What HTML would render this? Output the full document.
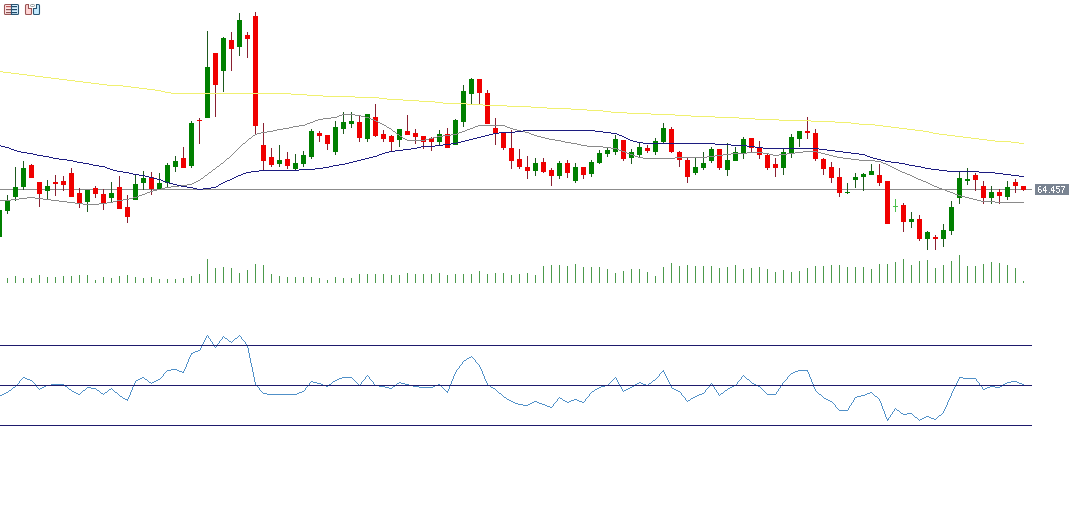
<!DOCTYPE html>
<html><head><meta charset="utf-8"><style>
html,body{margin:0;padding:0;background:#fff;width:1074px;height:505px;overflow:hidden;font-family:"Liberation Sans",sans-serif;}
svg{display:block}

</style></head><body>
<div id="w"><svg width="1074" height="505" viewBox="0 0 1074 505"><rect width="1074" height="505" fill="#ffffff"/><rect x="0" y="189" width="1032" height="1" fill="#8c8c8c" shape-rendering="crispEdges"/><g shape-rendering="crispEdges"><rect x="-1" y="210" width="1" height="27" fill="#1e5a1e"/><rect x="-3" y="210" width="5" height="27" fill="#008000"/><rect x="7" y="195" width="1" height="19" fill="#1e5a1e"/><rect x="5" y="201" width="5" height="10" fill="#008000"/><rect x="15" y="167" width="1" height="34" fill="#1e5a1e"/><rect x="13" y="187" width="5" height="10" fill="#008000"/><rect x="23" y="161" width="1" height="29" fill="#1e5a1e"/><rect x="21" y="168" width="5" height="19" fill="#008000"/><rect x="31" y="164" width="1" height="14" fill="#8a2030"/><rect x="29" y="165" width="5" height="13" fill="#f00000"/><rect x="39" y="182" width="1" height="25" fill="#8a2030"/><rect x="37" y="182" width="5" height="12" fill="#f00000"/><rect x="47" y="180" width="1" height="19" fill="#1e5a1e"/><rect x="45" y="186" width="5" height="5" fill="#008000"/><rect x="55" y="175" width="1" height="21" fill="#8a2030"/><rect x="53" y="182" width="5" height="2" fill="#f00000"/><rect x="63" y="176" width="1" height="15" fill="#8a2030"/><rect x="61" y="181" width="5" height="4" fill="#f00000"/><rect x="71" y="168" width="1" height="29" fill="#8a2030"/><rect x="69" y="173" width="5" height="24" fill="#f00000"/><rect x="79" y="188" width="1" height="20" fill="#8a2030"/><rect x="77" y="193" width="5" height="10" fill="#f00000"/><rect x="87" y="190" width="1" height="22" fill="#1e5a1e"/><rect x="85" y="190" width="5" height="12" fill="#008000"/><rect x="95" y="186" width="1" height="12" fill="#8a2030"/><rect x="93" y="188" width="5" height="6" fill="#f00000"/><rect x="103" y="189" width="1" height="21" fill="#8a2030"/><rect x="101" y="194" width="5" height="9" fill="#f00000"/><rect x="111" y="182" width="1" height="20" fill="#1e5a1e"/><rect x="109" y="193" width="5" height="5" fill="#008000"/><rect x="119" y="176" width="1" height="33" fill="#8a2030"/><rect x="117" y="187" width="5" height="22" fill="#f00000"/><rect x="127" y="195" width="1" height="28" fill="#8a2030"/><rect x="125" y="207" width="5" height="10" fill="#f00000"/><rect x="135" y="175" width="1" height="25" fill="#1e5a1e"/><rect x="133" y="184" width="5" height="16" fill="#008000"/><rect x="143" y="171" width="1" height="19" fill="#1e5a1e"/><rect x="141" y="178" width="5" height="5" fill="#008000"/><rect x="151" y="172" width="1" height="23" fill="#8a2030"/><rect x="149" y="177" width="5" height="12" fill="#f00000"/><rect x="159" y="173" width="1" height="17" fill="#1e5a1e"/><rect x="157" y="183" width="5" height="6" fill="#008000"/><rect x="167" y="163" width="1" height="24" fill="#1e5a1e"/><rect x="165" y="165" width="5" height="18" fill="#008000"/><rect x="175" y="156" width="1" height="16" fill="#1e5a1e"/><rect x="173" y="161" width="5" height="6" fill="#008000"/><rect x="183" y="147" width="1" height="21" fill="#8a2030"/><rect x="181" y="158" width="5" height="10" fill="#f00000"/><rect x="191" y="121" width="1" height="47" fill="#1e5a1e"/><rect x="189" y="123" width="5" height="43" fill="#008000"/><rect x="199" y="118" width="1" height="26" fill="#8a2030"/><rect x="197" y="120" width="5" height="1" fill="#f00000"/><rect x="207" y="31" width="1" height="87" fill="#1e5a1e"/><rect x="205" y="67" width="5" height="51" fill="#008000"/><rect x="215" y="53" width="1" height="64" fill="#8a2030"/><rect x="213" y="53" width="5" height="32" fill="#f00000"/><rect x="223" y="37" width="1" height="55" fill="#1e5a1e"/><rect x="221" y="38" width="5" height="33" fill="#008000"/><rect x="231" y="32" width="1" height="39" fill="#8a2030"/><rect x="229" y="40" width="5" height="9" fill="#f00000"/><rect x="239" y="13" width="1" height="43" fill="#1e5a1e"/><rect x="237" y="20" width="5" height="27" fill="#008000"/><rect x="247" y="32" width="1" height="26" fill="#8a2030"/><rect x="245" y="35" width="5" height="4" fill="#f00000"/><rect x="255" y="12" width="1" height="122" fill="#8a2030"/><rect x="253" y="16" width="5" height="110" fill="#f00000"/><rect x="263" y="123" width="1" height="47" fill="#8a2030"/><rect x="261" y="145" width="5" height="16" fill="#f00000"/><rect x="271" y="148" width="1" height="19" fill="#8a2030"/><rect x="269" y="157" width="5" height="8" fill="#f00000"/><rect x="279" y="145" width="1" height="22" fill="#1e5a1e"/><rect x="277" y="160" width="5" height="4" fill="#008000"/><rect x="287" y="152" width="1" height="17" fill="#8a2030"/><rect x="285" y="159" width="5" height="7" fill="#f00000"/><rect x="295" y="154" width="1" height="17" fill="#1e5a1e"/><rect x="293" y="163" width="5" height="6" fill="#008000"/><rect x="303" y="151" width="1" height="16" fill="#1e5a1e"/><rect x="301" y="155" width="5" height="9" fill="#008000"/><rect x="311" y="129" width="1" height="30" fill="#1e5a1e"/><rect x="309" y="131" width="5" height="26" fill="#008000"/><rect x="319" y="131" width="1" height="11" fill="#8a2030"/><rect x="317" y="133" width="5" height="3" fill="#f00000"/><rect x="327" y="135" width="1" height="15" fill="#8a2030"/><rect x="325" y="135" width="5" height="9" fill="#f00000"/><rect x="335" y="121" width="1" height="34" fill="#1e5a1e"/><rect x="333" y="127" width="5" height="25" fill="#008000"/><rect x="343" y="112" width="1" height="22" fill="#1e5a1e"/><rect x="341" y="122" width="5" height="7" fill="#008000"/><rect x="351" y="112" width="1" height="16" fill="#1e5a1e"/><rect x="349" y="121" width="5" height="3" fill="#008000"/><rect x="359" y="116" width="1" height="26" fill="#8a2030"/><rect x="357" y="122" width="5" height="16" fill="#f00000"/><rect x="367" y="114" width="1" height="28" fill="#1e5a1e"/><rect x="365" y="114" width="5" height="25" fill="#008000"/><rect x="375" y="104" width="1" height="33" fill="#8a2030"/><rect x="373" y="117" width="5" height="19" fill="#f00000"/><rect x="383" y="130" width="1" height="12" fill="#8a2030"/><rect x="381" y="134" width="5" height="5" fill="#f00000"/><rect x="391" y="135" width="1" height="17" fill="#8a2030"/><rect x="389" y="136" width="5" height="6" fill="#f00000"/><rect x="399" y="129" width="1" height="18" fill="#1e5a1e"/><rect x="397" y="129" width="5" height="11" fill="#008000"/><rect x="407" y="115" width="1" height="20" fill="#8a2030"/><rect x="405" y="131" width="5" height="4" fill="#f00000"/><rect x="415" y="129" width="1" height="15" fill="#8a2030"/><rect x="413" y="133" width="5" height="4" fill="#f00000"/><rect x="423" y="136" width="1" height="13" fill="#8a2030"/><rect x="421" y="136" width="5" height="6" fill="#f00000"/><rect x="431" y="137" width="1" height="14" fill="#8a2030"/><rect x="429" y="138" width="5" height="4" fill="#f00000"/><rect x="439" y="130" width="1" height="15" fill="#1e5a1e"/><rect x="437" y="134" width="5" height="8" fill="#008000"/><rect x="447" y="128" width="1" height="20" fill="#8a2030"/><rect x="445" y="134" width="5" height="14" fill="#f00000"/><rect x="455" y="119" width="1" height="26" fill="#1e5a1e"/><rect x="453" y="120" width="5" height="25" fill="#008000"/><rect x="463" y="85" width="1" height="42" fill="#1e5a1e"/><rect x="461" y="91" width="5" height="31" fill="#008000"/><rect x="471" y="78" width="1" height="26" fill="#1e5a1e"/><rect x="469" y="79" width="5" height="15" fill="#008000"/><rect x="479" y="79" width="1" height="25" fill="#8a2030"/><rect x="477" y="79" width="5" height="14" fill="#f00000"/><rect x="487" y="90" width="1" height="34" fill="#8a2030"/><rect x="485" y="93" width="5" height="31" fill="#f00000"/><rect x="495" y="118" width="1" height="27" fill="#8a2030"/><rect x="493" y="128" width="5" height="6" fill="#f00000"/><rect x="503" y="133" width="1" height="17" fill="#8a2030"/><rect x="501" y="133" width="5" height="15" fill="#f00000"/><rect x="511" y="130" width="1" height="39" fill="#8a2030"/><rect x="509" y="148" width="5" height="13" fill="#f00000"/><rect x="519" y="149" width="1" height="20" fill="#8a2030"/><rect x="517" y="159" width="5" height="8" fill="#f00000"/><rect x="527" y="156" width="1" height="23" fill="#8a2030"/><rect x="525" y="167" width="5" height="4" fill="#f00000"/><rect x="535" y="158" width="1" height="18" fill="#1e5a1e"/><rect x="533" y="163" width="5" height="8" fill="#008000"/><rect x="543" y="158" width="1" height="15" fill="#8a2030"/><rect x="541" y="162" width="5" height="10" fill="#f00000"/><rect x="551" y="168" width="1" height="18" fill="#8a2030"/><rect x="549" y="170" width="5" height="6" fill="#f00000"/><rect x="559" y="161" width="1" height="18" fill="#1e5a1e"/><rect x="557" y="163" width="5" height="13" fill="#008000"/><rect x="567" y="160" width="1" height="18" fill="#8a2030"/><rect x="565" y="163" width="5" height="10" fill="#f00000"/><rect x="575" y="163" width="1" height="20" fill="#1e5a1e"/><rect x="573" y="167" width="5" height="14" fill="#008000"/><rect x="583" y="167" width="1" height="12" fill="#8a2030"/><rect x="581" y="167" width="5" height="8" fill="#f00000"/><rect x="591" y="160" width="1" height="17" fill="#1e5a1e"/><rect x="589" y="162" width="5" height="12" fill="#008000"/><rect x="599" y="150" width="1" height="14" fill="#1e5a1e"/><rect x="597" y="153" width="5" height="10" fill="#008000"/><rect x="607" y="147" width="1" height="10" fill="#1e5a1e"/><rect x="605" y="150" width="5" height="4" fill="#008000"/><rect x="615" y="135" width="1" height="20" fill="#1e5a1e"/><rect x="613" y="139" width="5" height="13" fill="#008000"/><rect x="623" y="140" width="1" height="21" fill="#8a2030"/><rect x="621" y="140" width="5" height="19" fill="#f00000"/><rect x="631" y="149" width="1" height="15" fill="#1e5a1e"/><rect x="629" y="152" width="5" height="6" fill="#008000"/><rect x="639" y="142" width="1" height="16" fill="#1e5a1e"/><rect x="637" y="147" width="5" height="8" fill="#008000"/><rect x="647" y="145" width="1" height="8" fill="#8a2030"/><rect x="645" y="148" width="5" height="3" fill="#f00000"/><rect x="655" y="138" width="1" height="17" fill="#1e5a1e"/><rect x="653" y="141" width="5" height="11" fill="#008000"/><rect x="663" y="123" width="1" height="20" fill="#1e5a1e"/><rect x="661" y="128" width="5" height="14" fill="#008000"/><rect x="671" y="127" width="1" height="26" fill="#8a2030"/><rect x="669" y="129" width="5" height="23" fill="#f00000"/><rect x="679" y="151" width="1" height="16" fill="#8a2030"/><rect x="677" y="152" width="5" height="8" fill="#f00000"/><rect x="687" y="157" width="1" height="26" fill="#8a2030"/><rect x="685" y="160" width="5" height="17" fill="#f00000"/><rect x="695" y="157" width="1" height="18" fill="#1e5a1e"/><rect x="693" y="167" width="5" height="6" fill="#008000"/><rect x="703" y="152" width="1" height="18" fill="#1e5a1e"/><rect x="701" y="163" width="5" height="5" fill="#008000"/><rect x="711" y="147" width="1" height="16" fill="#1e5a1e"/><rect x="709" y="149" width="5" height="12" fill="#008000"/><rect x="719" y="149" width="1" height="21" fill="#8a2030"/><rect x="717" y="149" width="5" height="19" fill="#f00000"/><rect x="727" y="143" width="1" height="33" fill="#1e5a1e"/><rect x="725" y="160" width="5" height="10" fill="#008000"/><rect x="735" y="147" width="1" height="14" fill="#1e5a1e"/><rect x="733" y="152" width="5" height="9" fill="#008000"/><rect x="743" y="137" width="1" height="22" fill="#1e5a1e"/><rect x="741" y="139" width="5" height="14" fill="#008000"/><rect x="751" y="138" width="1" height="14" fill="#8a2030"/><rect x="749" y="138" width="5" height="10" fill="#f00000"/><rect x="759" y="141" width="1" height="18" fill="#8a2030"/><rect x="757" y="147" width="5" height="8" fill="#f00000"/><rect x="767" y="154" width="1" height="16" fill="#8a2030"/><rect x="765" y="155" width="5" height="13" fill="#f00000"/><rect x="775" y="158" width="1" height="19" fill="#8a2030"/><rect x="773" y="164" width="5" height="4" fill="#f00000"/><rect x="783" y="149" width="1" height="26" fill="#1e5a1e"/><rect x="781" y="152" width="5" height="16" fill="#008000"/><rect x="791" y="134" width="1" height="24" fill="#1e5a1e"/><rect x="789" y="137" width="5" height="16" fill="#008000"/><rect x="799" y="131" width="1" height="16" fill="#1e5a1e"/><rect x="797" y="131" width="5" height="8" fill="#008000"/><rect x="807" y="117" width="1" height="22" fill="#8a2030"/><rect x="805" y="131" width="5" height="2" fill="#f00000"/><rect x="815" y="129" width="1" height="32" fill="#8a2030"/><rect x="813" y="133" width="5" height="26" fill="#f00000"/><rect x="823" y="158" width="1" height="17" fill="#8a2030"/><rect x="821" y="159" width="5" height="10" fill="#f00000"/><rect x="831" y="162" width="1" height="21" fill="#8a2030"/><rect x="829" y="167" width="5" height="11" fill="#f00000"/><rect x="839" y="168" width="1" height="29" fill="#8a2030"/><rect x="837" y="177" width="5" height="16" fill="#f00000"/><rect x="847" y="183" width="1" height="11" fill="#1e5a1e"/><rect x="845" y="192" width="5" height="1" fill="#008000"/><rect x="855" y="173" width="1" height="15" fill="#1e5a1e"/><rect x="853" y="177" width="5" height="3" fill="#008000"/><rect x="863" y="173" width="1" height="18" fill="#1e5a1e"/><rect x="861" y="174" width="5" height="3" fill="#008000"/><rect x="871" y="164" width="1" height="11" fill="#1e5a1e"/><rect x="869" y="171" width="5" height="4" fill="#008000"/><rect x="879" y="164" width="1" height="22" fill="#8a2030"/><rect x="877" y="175" width="5" height="8" fill="#f00000"/><rect x="887" y="181" width="1" height="43" fill="#8a2030"/><rect x="885" y="181" width="5" height="43" fill="#f00000"/><rect x="895" y="199" width="1" height="13" fill="#4cc04c"/><rect x="893" y="206" width="5" height="1" fill="#4cc04c"/><rect x="903" y="203" width="1" height="29" fill="#8a2030"/><rect x="901" y="205" width="5" height="17" fill="#f00000"/><rect x="911" y="212" width="1" height="16" fill="#1e5a1e"/><rect x="909" y="219" width="5" height="3" fill="#008000"/><rect x="919" y="215" width="1" height="26" fill="#8a2030"/><rect x="917" y="219" width="5" height="20" fill="#f00000"/><rect x="927" y="231" width="1" height="19" fill="#1e5a1e"/><rect x="925" y="232" width="5" height="7" fill="#008000"/><rect x="935" y="235" width="1" height="15" fill="#8a2030"/><rect x="933" y="237" width="5" height="2" fill="#f00000"/><rect x="943" y="224" width="1" height="23" fill="#1e5a1e"/><rect x="941" y="230" width="5" height="9" fill="#008000"/><rect x="951" y="201" width="1" height="34" fill="#1e5a1e"/><rect x="949" y="207" width="5" height="24" fill="#008000"/><rect x="959" y="172" width="1" height="32" fill="#1e5a1e"/><rect x="957" y="178" width="5" height="20" fill="#008000"/><rect x="967" y="168" width="1" height="17" fill="#1e5a1e"/><rect x="965" y="179" width="5" height="2" fill="#008000"/><rect x="975" y="173" width="1" height="18" fill="#8a2030"/><rect x="973" y="175" width="5" height="5" fill="#f00000"/><rect x="983" y="181" width="1" height="23" fill="#8a2030"/><rect x="981" y="186" width="5" height="12" fill="#f00000"/><rect x="991" y="186" width="1" height="18" fill="#1e5a1e"/><rect x="989" y="192" width="5" height="6" fill="#008000"/><rect x="999" y="189" width="1" height="15" fill="#8a2030"/><rect x="997" y="192" width="5" height="4" fill="#f00000"/><rect x="1007" y="181" width="1" height="19" fill="#1e5a1e"/><rect x="1005" y="187" width="5" height="10" fill="#008000"/><rect x="1015" y="179" width="1" height="14" fill="#8a2030"/><rect x="1013" y="182" width="5" height="4" fill="#f00000"/><rect x="1023" y="186" width="1" height="5" fill="#8a2030"/><rect x="1021" y="186" width="5" height="4" fill="#f00000"/></g><path d="M0 71h3v1h-3zM3 72h8v1h-8zM11 73h8v1h-8zM19 74h8v1h-8zM27 75h8v1h-8zM35 76h8v1h-8zM43 77h8v1h-8zM51 78h8v1h-8zM59 79h8v1h-8zM67 80h8v1h-8zM75 81h8v1h-8zM83 82h8v1h-8zM91 83h8v1h-8zM99 84h8v1h-8zM107 85h16v1h-16zM123 86h8v1h-8zM131 87h8v1h-8zM139 88h8v1h-8zM147 89h8v1h-8zM155 90h6v1h-6zM161 91h4v1h-4zM165 92h6v1h-6zM171 93h120v1h-120zM291 94h16v1h-16zM307 95h16v1h-16zM323 96h32v1h-32zM355 97h24v1h-24zM379 98h8v1h-8zM387 99h16v1h-16zM403 100h16v1h-16zM419 101h16v1h-16zM435 102h8v1h-8zM443 103h24v1h-24zM467 104h16v1h-16zM483 105h24v1h-24zM507 106h24v1h-24zM531 107h16v1h-16zM547 108h24v1h-24zM571 109h16v1h-16zM587 110h16v1h-16zM603 111h8v1h-8zM611 112h16v1h-16zM627 113h24v1h-24zM651 114h24v1h-24zM675 115h16v1h-16zM691 116h24v1h-24zM715 117h24v1h-24zM739 118h16v1h-16zM755 119h24v1h-24zM779 120h32v1h-32zM811 121h24v1h-24zM835 122h16v1h-16zM851 123h8v1h-8zM859 124h16v1h-16zM875 125h8v1h-8zM883 126h8v1h-8zM891 127h8v1h-8zM899 128h8v1h-8zM907 129h8v1h-8zM915 130h8v1h-8zM923 131h6v1h-6zM929 132h4v1h-4zM933 133h6v1h-6zM939 134h8v1h-8zM947 135h8v1h-8zM955 136h8v1h-8zM963 137h8v1h-8zM971 138h8v1h-8zM979 139h8v1h-8zM987 140h8v1h-8zM995 141h16v1h-16zM1011 142h8v1h-8zM1019 143h5v1h-5z" fill="#f0f070" shape-rendering="crispEdges"/><path d="M0 200h11v1h-11zM51 200h8v1h-8zM117 200h6v1h-6zM977 200h4v1h-4zM11 199h8v1h-8zM43 199h8v1h-8zM123 199h6v1h-6zM973 199h4v1h-4zM19 198h8v1h-8zM35 198h8v1h-8zM129 198h4v1h-4zM969 198h4v1h-4zM27 197h8v1h-8zM133 197h4v1h-4zM965 197h4v1h-4zM59 201h8v1h-8zM113 201h4v1h-4zM981 201h14v1h-14zM67 202h8v1h-8zM107 202h6v1h-6zM995 202h29v1h-29zM75 203h8v1h-8zM99 203h8v1h-8zM83 204h16v1h-16zM137 196h2v1h-2zM961 196h4v1h-4zM139 195h3v1h-3zM958 195h3v1h-3zM142 194h3v1h-3zM955 194h3v1h-3zM145 193h2v1h-2zM953 193h2v1h-2zM147 192h3v1h-3zM950 192h3v1h-3zM150 191h3v1h-3zM947 191h3v1h-3zM153 190h4v1h-4zM945 190h2v1h-2zM157 189h4v1h-4zM942 189h3v1h-3zM161 188h4v1h-4zM939 188h3v1h-3zM165 187h6v1h-6zM937 187h2v1h-2zM171 186h8v1h-8zM934 186h3v1h-3zM179 185h8v1h-8zM932 185h2v1h-2zM187 184h5v1h-5zM930 184h2v1h-2zM192 183h2v1h-2zM928 183h2v1h-2zM194 182h2v1h-2zM926 182h2v1h-2zM196 181h2v1h-2zM923 181h3v1h-3zM198 180h2v1h-2zM921 180h2v1h-2zM200 179h1v1h-1zM918 179h3v1h-3zM201 178h2v1h-2zM916 178h2v1h-2zM203 177h1v1h-1zM914 177h2v1h-2zM204 176h1v1h-1zM912 176h2v1h-2zM205 175h2v1h-2zM910 175h2v1h-2zM207 174h1v1h-1zM907 174h3v1h-3zM208 173h1v1h-1zM905 173h2v1h-2zM209 172h2v1h-2zM902 172h3v1h-3zM211 171h1v1h-1zM900 171h2v1h-2zM212 170h1v1h-1zM898 170h2v1h-2zM213 169h2v1h-2zM896 169h2v1h-2zM215 168h1v1h-1zM894 168h2v1h-2zM216 167h1v1h-1zM892 167h2v1h-2zM217 166h2v1h-2zM890 166h2v1h-2zM219 165h1v1h-1zM888 165h2v1h-2zM220 164h1v1h-1zM886 164h2v1h-2zM221 163h2v1h-2zM883 163h3v1h-3zM223 162h1v1h-1zM881 162h2v1h-2zM224 161h1v1h-1zM875 161h6v1h-6zM225 160h1v1h-1zM859 160h16v1h-16zM226 159h1v1h-1zM851 159h8v1h-8zM227 158h2v1h-2zM643 158h32v1h-32zM843 158h8v1h-8zM229 157h1v1h-1zM638 157h5v1h-5zM675 157h32v1h-32zM837 157h6v1h-6zM230 156h1v1h-1zM635 156h3v1h-3zM707 156h8v1h-8zM833 156h4v1h-4zM231 155h1v1h-1zM633 155h2v1h-2zM715 155h8v1h-8zM773 155h6v1h-6zM829 155h4v1h-4zM232 154h1v1h-1zM630 154h3v1h-3zM723 154h8v1h-8zM769 154h4v1h-4zM779 154h8v1h-8zM825 154h4v1h-4zM233 153h1v1h-1zM627 153h3v1h-3zM731 153h16v1h-16zM763 153h6v1h-6zM787 153h8v1h-8zM821 153h4v1h-4zM234 152h1v1h-1zM625 152h2v1h-2zM747 152h16v1h-16zM795 152h8v1h-8zM817 152h4v1h-4zM235 151h1v1h-1zM622 151h3v1h-3zM803 151h14v1h-14zM236 150h1v1h-1zM619 150h3v1h-3zM237 149h1v1h-1zM617 149h2v1h-2zM238 148h1v1h-1zM611 148h6v1h-6zM239 147h1v1h-1zM603 147h8v1h-8zM240 146h1v1h-1zM587 146h16v1h-16zM241 145h1v1h-1zM581 145h6v1h-6zM242 144h1v1h-1zM577 144h4v1h-4zM243 143h2v1h-2zM571 143h6v1h-6zM245 142h1v1h-1zM565 142h6v1h-6zM246 141h1v1h-1zM561 141h4v1h-4zM247 140h1v1h-1zM407 140h18v1h-18zM555 140h6v1h-6zM248 139h1v1h-1zM405 139h2v1h-2zM425 139h4v1h-4zM549 139h6v1h-6zM249 138h2v1h-2zM403 138h2v1h-2zM429 138h4v1h-4zM545 138h4v1h-4zM251 137h1v1h-1zM402 137h1v1h-1zM433 137h4v1h-4zM541 137h4v1h-4zM252 136h1v1h-1zM400 136h2v1h-2zM437 136h6v1h-6zM537 136h4v1h-4zM253 135h2v1h-2zM399 135h1v1h-1zM443 135h8v1h-8zM534 135h3v1h-3zM255 134h2v1h-2zM397 134h2v1h-2zM451 134h6v1h-6zM531 134h3v1h-3zM257 133h4v1h-4zM396 133h1v1h-1zM457 133h2v1h-2zM529 133h2v1h-2zM261 132h6v1h-6zM395 132h1v1h-1zM459 132h3v1h-3zM525 132h4v1h-4zM267 131h6v1h-6zM393 131h2v1h-2zM462 131h3v1h-3zM521 131h4v1h-4zM273 130h4v1h-4zM392 130h1v1h-1zM465 130h2v1h-2zM517 130h4v1h-4zM277 129h6v1h-6zM391 129h1v1h-1zM467 129h3v1h-3zM513 129h4v1h-4zM283 128h6v1h-6zM389 128h2v1h-2zM470 128h3v1h-3zM510 128h3v1h-3zM289 127h4v1h-4zM387 127h2v1h-2zM473 127h2v1h-2zM507 127h3v1h-3zM293 126h6v1h-6zM386 126h1v1h-1zM475 126h3v1h-3zM505 126h2v1h-2zM299 125h6v1h-6zM384 125h2v1h-2zM478 125h27v1h-27zM305 124h2v1h-2zM382 124h2v1h-2zM307 123h3v1h-3zM380 123h2v1h-2zM310 122h3v1h-3zM378 122h2v1h-2zM313 121h2v1h-2zM376 121h2v1h-2zM315 120h3v1h-3zM374 120h2v1h-2zM318 119h5v1h-5zM371 119h3v1h-3zM323 118h8v1h-8zM369 118h2v1h-2zM331 117h6v1h-6zM365 117h4v1h-4zM337 116h2v1h-2zM361 116h4v1h-4zM339 115h3v1h-3zM355 115h6v1h-6zM342 114h13v1h-13z" fill="#8a8a8a" shape-rendering="crispEdges"/><path d="M0 145h1v1h-1zM435 145h8v1h-8zM731 145h16v1h-16zM1 146h4v1h-4zM421 146h14v1h-14zM747 146h8v1h-8zM5 147h4v1h-4zM417 147h4v1h-4zM755 147h8v1h-8zM9 148h2v1h-2zM411 148h6v1h-6zM763 148h56v1h-56zM11 149h3v1h-3zM403 149h8v1h-8zM819 149h8v1h-8zM14 150h3v1h-3zM395 150h8v1h-8zM827 150h8v1h-8zM17 151h4v1h-4zM389 151h6v1h-6zM835 151h8v1h-8zM21 152h6v1h-6zM385 152h4v1h-4zM843 152h8v1h-8zM27 153h6v1h-6zM382 153h3v1h-3zM851 153h8v1h-8zM33 154h4v1h-4zM379 154h3v1h-3zM859 154h6v1h-6zM37 155h6v1h-6zM377 155h2v1h-2zM865 155h2v1h-2zM43 156h6v1h-6zM373 156h4v1h-4zM867 156h3v1h-3zM49 157h4v1h-4zM369 157h4v1h-4zM870 157h3v1h-3zM53 158h6v1h-6zM365 158h4v1h-4zM873 158h4v1h-4zM59 159h8v1h-8zM361 159h4v1h-4zM877 159h4v1h-4zM67 160h6v1h-6zM357 160h4v1h-4zM881 160h4v1h-4zM73 161h4v1h-4zM353 161h4v1h-4zM885 161h6v1h-6zM77 162h6v1h-6zM349 162h4v1h-4zM891 162h8v1h-8zM83 163h6v1h-6zM345 163h4v1h-4zM899 163h6v1h-6zM89 164h4v1h-4zM339 164h6v1h-6zM905 164h4v1h-4zM93 165h6v1h-6zM333 165h6v1h-6zM909 165h6v1h-6zM99 166h6v1h-6zM329 166h4v1h-4zM915 166h6v1h-6zM105 167h2v1h-2zM323 167h6v1h-6zM921 167h4v1h-4zM107 168h3v1h-3zM315 168h8v1h-8zM925 168h6v1h-6zM110 169h3v1h-3zM299 169h16v1h-16zM931 169h8v1h-8zM113 170h4v1h-4zM259 170h40v1h-40zM939 170h8v1h-8zM117 171h6v1h-6zM251 171h8v1h-8zM947 171h32v1h-32zM123 172h6v1h-6zM246 172h5v1h-5zM979 172h16v1h-16zM129 173h4v1h-4zM243 173h3v1h-3zM995 173h8v1h-8zM133 174h6v1h-6zM241 174h2v1h-2zM1003 174h8v1h-8zM139 175h6v1h-6zM238 175h3v1h-3zM1011 175h8v1h-8zM145 176h4v1h-4zM236 176h2v1h-2zM1019 176h5v1h-5zM149 177h4v1h-4zM234 177h2v1h-2zM153 178h4v1h-4zM232 178h2v1h-2zM157 179h4v1h-4zM230 179h2v1h-2zM161 180h2v1h-2zM227 180h3v1h-3zM163 181h3v1h-3zM225 181h2v1h-2zM166 182h3v1h-3zM223 182h2v1h-2zM169 183h4v1h-4zM221 183h2v1h-2zM173 184h4v1h-4zM219 184h2v1h-2zM177 185h4v1h-4zM218 185h1v1h-1zM181 186h6v1h-6zM216 186h2v1h-2zM187 187h6v1h-6zM211 187h5v1h-5zM193 188h4v1h-4zM203 188h8v1h-8zM197 189h6v1h-6zM443 144h8v1h-8zM715 144h16v1h-16zM451 143h6v1h-6zM643 143h72v1h-72zM457 142h4v1h-4zM637 142h6v1h-6zM461 141h4v1h-4zM633 141h4v1h-4zM465 140h4v1h-4zM630 140h3v1h-3zM469 139h4v1h-4zM628 139h2v1h-2zM473 138h4v1h-4zM626 138h2v1h-2zM477 137h4v1h-4zM624 137h2v1h-2zM481 136h4v1h-4zM622 136h2v1h-2zM485 135h4v1h-4zM619 135h3v1h-3zM489 134h4v1h-4zM617 134h2v1h-2zM493 133h6v1h-6zM611 133h6v1h-6zM499 132h16v1h-16zM603 132h8v1h-8zM515 131h8v1h-8zM595 131h8v1h-8zM523 130h72v1h-72z" fill="#1c1c80" shape-rendering="crispEdges"/><g shape-rendering="crispEdges"><rect x="7" y="278" width="1" height="5" fill="#4c9a4c"/><rect x="15" y="276" width="1" height="7" fill="#4c9a4c"/><rect x="23" y="278" width="1" height="5" fill="#4c9a4c"/><rect x="31" y="278" width="1" height="5" fill="#4c9a4c"/><rect x="39" y="275" width="1" height="8" fill="#4c9a4c"/><rect x="47" y="277" width="1" height="6" fill="#4c9a4c"/><rect x="55" y="277" width="1" height="6" fill="#4c9a4c"/><rect x="63" y="276" width="1" height="7" fill="#4c9a4c"/><rect x="71" y="276" width="1" height="7" fill="#4c9a4c"/><rect x="79" y="275" width="1" height="8" fill="#4c9a4c"/><rect x="87" y="275" width="1" height="8" fill="#4c9a4c"/><rect x="95" y="280" width="1" height="3" fill="#4c9a4c"/><rect x="103" y="277" width="1" height="6" fill="#4c9a4c"/><rect x="111" y="278" width="1" height="5" fill="#4c9a4c"/><rect x="119" y="276" width="1" height="7" fill="#4c9a4c"/><rect x="127" y="275" width="1" height="8" fill="#4c9a4c"/><rect x="135" y="277" width="1" height="6" fill="#4c9a4c"/><rect x="143" y="278" width="1" height="5" fill="#4c9a4c"/><rect x="151" y="277" width="1" height="6" fill="#4c9a4c"/><rect x="159" y="279" width="1" height="4" fill="#4c9a4c"/><rect x="167" y="279" width="1" height="4" fill="#4c9a4c"/><rect x="175" y="279" width="1" height="4" fill="#4c9a4c"/><rect x="183" y="278" width="1" height="5" fill="#4c9a4c"/><rect x="191" y="276" width="1" height="7" fill="#4c9a4c"/><rect x="199" y="274" width="1" height="9" fill="#4c9a4c"/><rect x="207" y="259" width="1" height="24" fill="#4c9a4c"/><rect x="215" y="268" width="1" height="15" fill="#4c9a4c"/><rect x="223" y="267" width="1" height="16" fill="#4c9a4c"/><rect x="231" y="268" width="1" height="15" fill="#4c9a4c"/><rect x="239" y="273" width="1" height="10" fill="#4c9a4c"/><rect x="247" y="270" width="1" height="13" fill="#4c9a4c"/><rect x="255" y="264" width="1" height="19" fill="#4c9a4c"/><rect x="263" y="265" width="1" height="18" fill="#4c9a4c"/><rect x="271" y="274" width="1" height="9" fill="#4c9a4c"/><rect x="279" y="276" width="1" height="7" fill="#4c9a4c"/><rect x="287" y="277" width="1" height="6" fill="#4c9a4c"/><rect x="295" y="277" width="1" height="6" fill="#4c9a4c"/><rect x="303" y="277" width="1" height="6" fill="#4c9a4c"/><rect x="311" y="277" width="1" height="6" fill="#4c9a4c"/><rect x="319" y="278" width="1" height="5" fill="#4c9a4c"/><rect x="327" y="280" width="1" height="3" fill="#4c9a4c"/><rect x="335" y="277" width="1" height="6" fill="#4c9a4c"/><rect x="343" y="278" width="1" height="5" fill="#4c9a4c"/><rect x="351" y="278" width="1" height="5" fill="#4c9a4c"/><rect x="359" y="274" width="1" height="9" fill="#4c9a4c"/><rect x="367" y="274" width="1" height="9" fill="#4c9a4c"/><rect x="375" y="274" width="1" height="9" fill="#4c9a4c"/><rect x="383" y="274" width="1" height="9" fill="#4c9a4c"/><rect x="391" y="275" width="1" height="8" fill="#4c9a4c"/><rect x="399" y="275" width="1" height="8" fill="#4c9a4c"/><rect x="407" y="273" width="1" height="10" fill="#4c9a4c"/><rect x="415" y="274" width="1" height="9" fill="#4c9a4c"/><rect x="423" y="274" width="1" height="9" fill="#4c9a4c"/><rect x="431" y="274" width="1" height="9" fill="#4c9a4c"/><rect x="439" y="273" width="1" height="10" fill="#4c9a4c"/><rect x="447" y="275" width="1" height="8" fill="#4c9a4c"/><rect x="455" y="274" width="1" height="9" fill="#4c9a4c"/><rect x="463" y="274" width="1" height="9" fill="#4c9a4c"/><rect x="471" y="274" width="1" height="9" fill="#4c9a4c"/><rect x="479" y="271" width="1" height="12" fill="#4c9a4c"/><rect x="487" y="274" width="1" height="9" fill="#4c9a4c"/><rect x="495" y="273" width="1" height="10" fill="#4c9a4c"/><rect x="503" y="273" width="1" height="10" fill="#4c9a4c"/><rect x="511" y="275" width="1" height="8" fill="#4c9a4c"/><rect x="519" y="274" width="1" height="9" fill="#4c9a4c"/><rect x="527" y="273" width="1" height="10" fill="#4c9a4c"/><rect x="535" y="275" width="1" height="8" fill="#4c9a4c"/><rect x="543" y="266" width="1" height="17" fill="#4c9a4c"/><rect x="551" y="265" width="1" height="18" fill="#4c9a4c"/><rect x="559" y="265" width="1" height="18" fill="#4c9a4c"/><rect x="567" y="266" width="1" height="17" fill="#4c9a4c"/><rect x="575" y="264" width="1" height="19" fill="#4c9a4c"/><rect x="583" y="267" width="1" height="16" fill="#4c9a4c"/><rect x="591" y="267" width="1" height="16" fill="#4c9a4c"/><rect x="599" y="267" width="1" height="16" fill="#4c9a4c"/><rect x="607" y="269" width="1" height="14" fill="#4c9a4c"/><rect x="615" y="273" width="1" height="10" fill="#4c9a4c"/><rect x="623" y="271" width="1" height="12" fill="#4c9a4c"/><rect x="631" y="269" width="1" height="14" fill="#4c9a4c"/><rect x="639" y="269" width="1" height="14" fill="#4c9a4c"/><rect x="647" y="272" width="1" height="11" fill="#4c9a4c"/><rect x="655" y="276" width="1" height="7" fill="#4c9a4c"/><rect x="663" y="267" width="1" height="16" fill="#4c9a4c"/><rect x="671" y="263" width="1" height="20" fill="#4c9a4c"/><rect x="679" y="266" width="1" height="17" fill="#4c9a4c"/><rect x="687" y="265" width="1" height="18" fill="#4c9a4c"/><rect x="695" y="266" width="1" height="17" fill="#4c9a4c"/><rect x="703" y="266" width="1" height="17" fill="#4c9a4c"/><rect x="711" y="266" width="1" height="17" fill="#4c9a4c"/><rect x="719" y="268" width="1" height="15" fill="#4c9a4c"/><rect x="727" y="267" width="1" height="16" fill="#4c9a4c"/><rect x="735" y="265" width="1" height="18" fill="#4c9a4c"/><rect x="743" y="269" width="1" height="14" fill="#4c9a4c"/><rect x="751" y="268" width="1" height="15" fill="#4c9a4c"/><rect x="759" y="267" width="1" height="16" fill="#4c9a4c"/><rect x="767" y="269" width="1" height="14" fill="#4c9a4c"/><rect x="775" y="272" width="1" height="11" fill="#4c9a4c"/><rect x="783" y="270" width="1" height="13" fill="#4c9a4c"/><rect x="791" y="272" width="1" height="11" fill="#4c9a4c"/><rect x="799" y="271" width="1" height="12" fill="#4c9a4c"/><rect x="807" y="268" width="1" height="15" fill="#4c9a4c"/><rect x="815" y="266" width="1" height="17" fill="#4c9a4c"/><rect x="823" y="266" width="1" height="17" fill="#4c9a4c"/><rect x="831" y="265" width="1" height="18" fill="#4c9a4c"/><rect x="839" y="265" width="1" height="18" fill="#4c9a4c"/><rect x="847" y="267" width="1" height="16" fill="#4c9a4c"/><rect x="855" y="267" width="1" height="16" fill="#4c9a4c"/><rect x="863" y="267" width="1" height="16" fill="#4c9a4c"/><rect x="871" y="269" width="1" height="14" fill="#4c9a4c"/><rect x="879" y="264" width="1" height="19" fill="#4c9a4c"/><rect x="887" y="264" width="1" height="19" fill="#4c9a4c"/><rect x="895" y="262" width="1" height="21" fill="#4c9a4c"/><rect x="903" y="259" width="1" height="24" fill="#4c9a4c"/><rect x="911" y="265" width="1" height="18" fill="#4c9a4c"/><rect x="919" y="261" width="1" height="22" fill="#4c9a4c"/><rect x="927" y="260" width="1" height="23" fill="#4c9a4c"/><rect x="935" y="268" width="1" height="15" fill="#4c9a4c"/><rect x="943" y="265" width="1" height="18" fill="#4c9a4c"/><rect x="951" y="261" width="1" height="22" fill="#4c9a4c"/><rect x="959" y="255" width="1" height="28" fill="#4c9a4c"/><rect x="967" y="266" width="1" height="17" fill="#4c9a4c"/><rect x="975" y="266" width="1" height="17" fill="#4c9a4c"/><rect x="983" y="264" width="1" height="19" fill="#4c9a4c"/><rect x="991" y="262" width="1" height="21" fill="#4c9a4c"/><rect x="999" y="263" width="1" height="20" fill="#4c9a4c"/><rect x="1007" y="265" width="1" height="18" fill="#4c9a4c"/><rect x="1015" y="268" width="1" height="15" fill="#4c9a4c"/><rect x="1023" y="281" width="1" height="2" fill="#4c9a4c"/></g><path d="M0 395h2v1h-2zM119 395h1v1h-1zM129 395h1v1h-1zM502 395h1v1h-1zM589 395h1v1h-1zM682 395h1v1h-1zM697 395h2v1h-2zM719 395h1v1h-1zM821 395h1v1h-1zM861 395h4v1h-4zM874 395h1v1h-1zM951 395h1v1h-1zM2 394h2v1h-2zM78 394h2v1h-2zM103 394h1v1h-1zM118 394h1v1h-1zM130 394h1v1h-1zM267 394h30v1h-30zM501 394h1v1h-1zM589 394h1v1h-1zM681 394h1v1h-1zM699 394h3v1h-3zM718 394h1v1h-1zM720 394h1v1h-1zM767 394h9v1h-9zM819 394h2v1h-2zM865 394h2v1h-2zM873 394h1v1h-1zM951 394h1v1h-1zM4 393h2v1h-2zM76 393h2v1h-2zM80 393h1v1h-1zM101 393h2v1h-2zM104 393h1v1h-1zM117 393h1v1h-1zM130 393h1v1h-1zM263 393h4v1h-4zM297 393h2v1h-2zM499 393h2v1h-2zM590 393h1v1h-1zM681 393h1v1h-1zM702 393h2v1h-2zM718 393h1v1h-1zM721 393h2v1h-2zM766 393h1v1h-1zM776 393h1v1h-1zM818 393h1v1h-1zM867 393h3v1h-3zM872 393h1v1h-1zM951 393h1v1h-1zM6 392h2v1h-2zM74 392h2v1h-2zM81 392h1v1h-1zM100 392h1v1h-1zM105 392h2v1h-2zM115 392h2v1h-2zM130 392h1v1h-1zM262 392h1v1h-1zM299 392h3v1h-3zM447 392h1v1h-1zM498 392h1v1h-1zM591 392h1v1h-1zM680 392h1v1h-1zM704 392h1v1h-1zM717 392h1v1h-1zM723 392h1v1h-1zM765 392h1v1h-1zM776 392h1v1h-1zM817 392h1v1h-1zM870 392h2v1h-2zM952 392h1v1h-1zM8 391h1v1h-1zM72 391h2v1h-2zM82 391h1v1h-1zM99 391h1v1h-1zM107 391h1v1h-1zM114 391h1v1h-1zM131 391h1v1h-1zM261 391h1v1h-1zM302 391h2v1h-2zM446 391h2v1h-2zM497 391h1v1h-1zM592 391h2v1h-2zM623 391h1v1h-1zM678 391h2v1h-2zM705 391h1v1h-1zM716 391h1v1h-1zM724 391h1v1h-1zM764 391h1v1h-1zM777 391h1v1h-1zM816 391h1v1h-1zM952 391h1v1h-1zM9 390h2v1h-2zM71 390h1v1h-1zM83 390h2v1h-2zM97 390h2v1h-2zM108 390h1v1h-1zM113 390h1v1h-1zM131 390h1v1h-1zM260 390h1v1h-1zM304 390h1v1h-1zM445 390h1v1h-1zM448 390h1v1h-1zM496 390h1v1h-1zM594 390h1v1h-1zM622 390h1v1h-1zM624 390h2v1h-2zM676 390h2v1h-2zM705 390h1v1h-1zM716 390h1v1h-1zM725 390h2v1h-2zM763 390h1v1h-1zM778 390h1v1h-1zM815 390h1v1h-1zM953 390h1v1h-1zM11 389h1v1h-1zM39 389h1v1h-1zM69 389h2v1h-2zM85 389h1v1h-1zM96 389h1v1h-1zM109 389h2v1h-2zM112 389h1v1h-1zM132 389h1v1h-1zM259 389h1v1h-1zM305 389h1v1h-1zM444 389h1v1h-1zM448 389h1v1h-1zM495 389h1v1h-1zM595 389h2v1h-2zM622 389h1v1h-1zM626 389h2v1h-2zM674 389h2v1h-2zM706 389h1v1h-1zM715 389h1v1h-1zM727 389h1v1h-1zM762 389h1v1h-1zM778 389h1v1h-1zM815 389h1v1h-1zM953 389h1v1h-1zM983 389h2v1h-2zM12 388h1v1h-1zM38 388h1v1h-1zM40 388h2v1h-2zM68 388h1v1h-1zM86 388h1v1h-1zM91 388h5v1h-5zM111 388h1v1h-1zM132 388h1v1h-1zM259 388h1v1h-1zM305 388h1v1h-1zM389 388h3v1h-3zM443 388h1v1h-1zM449 388h1v1h-1zM493 388h2v1h-2zM597 388h2v1h-2zM621 388h1v1h-1zM628 388h2v1h-2zM672 388h2v1h-2zM707 388h1v1h-1zM714 388h1v1h-1zM728 388h2v1h-2zM761 388h1v1h-1zM779 388h1v1h-1zM814 388h1v1h-1zM954 388h1v1h-1zM982 388h1v1h-1zM985 388h2v1h-2zM13 387h2v1h-2zM37 387h1v1h-1zM42 387h2v1h-2zM67 387h1v1h-1zM87 387h4v1h-4zM132 387h1v1h-1zM258 387h1v1h-1zM306 387h1v1h-1zM385 387h4v1h-4zM392 387h1v1h-1zM419 387h14v1h-14zM442 387h1v1h-1zM449 387h1v1h-1zM491 387h2v1h-2zM599 387h2v1h-2zM621 387h1v1h-1zM630 387h2v1h-2zM671 387h1v1h-1zM708 387h1v1h-1zM714 387h1v1h-1zM730 387h2v1h-2zM760 387h1v1h-1zM780 387h1v1h-1zM814 387h1v1h-1zM954 387h1v1h-1zM982 387h1v1h-1zM987 387h3v1h-3zM995 387h5v1h-5zM15 386h1v1h-1zM36 386h1v1h-1zM44 386h2v1h-2zM65 386h2v1h-2zM133 386h1v1h-1zM257 386h1v1h-1zM307 386h1v1h-1zM326 386h2v1h-2zM379 386h6v1h-6zM393 386h2v1h-2zM413 386h6v1h-6zM433 386h2v1h-2zM441 386h1v1h-1zM449 386h1v1h-1zM490 386h1v1h-1zM601 386h4v1h-4zM620 386h1v1h-1zM632 386h2v1h-2zM671 386h1v1h-1zM709 386h1v1h-1zM713 386h1v1h-1zM732 386h2v1h-2zM758 386h2v1h-2zM780 386h1v1h-1zM813 386h1v1h-1zM955 386h1v1h-1zM981 386h1v1h-1zM990 386h5v1h-5zM1000 386h2v1h-2zM16 385h1v1h-1zM35 385h1v1h-1zM46 385h5v1h-5zM64 385h1v1h-1zM133 385h1v1h-1zM256 385h1v1h-1zM308 385h1v1h-1zM323 385h3v1h-3zM328 385h1v1h-1zM359 385h1v1h-1zM375 385h4v1h-4zM395 385h1v1h-1zM409 385h4v1h-4zM435 385h3v1h-3zM440 385h1v1h-1zM450 385h1v1h-1zM488 385h2v1h-2zM605 385h3v1h-3zM620 385h1v1h-1zM634 385h1v1h-1zM646 385h2v1h-2zM670 385h1v1h-1zM709 385h1v1h-1zM712 385h1v1h-1zM734 385h2v1h-2zM756 385h2v1h-2zM781 385h1v1h-1zM813 385h1v1h-1zM955 385h1v1h-1zM980 385h1v1h-1zM1002 385h1v1h-1zM17 384h1v1h-1zM35 384h1v1h-1zM51 384h13v1h-13zM134 384h1v1h-1zM255 384h1v1h-1zM309 384h1v1h-1zM321 384h2v1h-2zM329 384h2v1h-2zM358 384h1v1h-1zM360 384h1v1h-1zM374 384h1v1h-1zM396 384h1v1h-1zM405 384h4v1h-4zM438 384h2v1h-2zM450 384h1v1h-1zM487 384h1v1h-1zM608 384h1v1h-1zM619 384h1v1h-1zM635 384h2v1h-2zM643 384h3v1h-3zM648 384h1v1h-1zM670 384h1v1h-1zM710 384h1v1h-1zM712 384h1v1h-1zM736 384h1v1h-1zM754 384h2v1h-2zM782 384h1v1h-1zM813 384h1v1h-1zM956 384h1v1h-1zM979 384h1v1h-1zM1003 384h2v1h-2zM1022 384h2v1h-2zM18 383h1v1h-1zM34 383h1v1h-1zM134 383h1v1h-1zM151 383h1v1h-1zM255 383h1v1h-1zM309 383h1v1h-1zM317 383h4v1h-4zM331 383h1v1h-1zM357 383h1v1h-1zM361 383h1v1h-1zM373 383h1v1h-1zM397 383h2v1h-2zM401 383h4v1h-4zM451 383h1v1h-1zM487 383h1v1h-1zM609 383h1v1h-1zM618 383h1v1h-1zM637 383h2v1h-2zM641 383h2v1h-2zM649 383h2v1h-2zM669 383h1v1h-1zM711 383h1v1h-1zM737 383h1v1h-1zM752 383h2v1h-2zM782 383h1v1h-1zM812 383h1v1h-1zM956 383h1v1h-1zM979 383h1v1h-1zM1005 383h2v1h-2zM1019 383h3v1h-3zM19 381h1v1h-1zM32 381h1v1h-1zM135 381h1v1h-1zM148 381h1v1h-1zM154 381h2v1h-2zM254 381h1v1h-1zM311 381h2v1h-2zM333 381h2v1h-2zM355 381h1v1h-1zM362 381h1v1h-1zM372 381h1v1h-1zM451 381h1v1h-1zM486 381h1v1h-1zM611 381h1v1h-1zM617 381h1v1h-1zM652 381h1v1h-1zM668 381h1v1h-1zM738 381h1v1h-1zM750 381h1v1h-1zM784 381h1v1h-1zM811 381h1v1h-1zM957 381h1v1h-1zM977 381h1v1h-1zM1011 381h6v1h-6zM19 382h1v1h-1zM33 382h1v1h-1zM135 382h1v1h-1zM149 382h2v1h-2zM152 382h2v1h-2zM255 382h1v1h-1zM310 382h1v1h-1zM313 382h4v1h-4zM332 382h1v1h-1zM356 382h1v1h-1zM361 382h1v1h-1zM373 382h1v1h-1zM399 382h2v1h-2zM451 382h1v1h-1zM486 382h1v1h-1zM610 382h1v1h-1zM618 382h1v1h-1zM639 382h2v1h-2zM651 382h1v1h-1zM669 382h1v1h-1zM737 382h1v1h-1zM751 382h1v1h-1zM783 382h1v1h-1zM812 382h1v1h-1zM957 382h1v1h-1zM978 382h1v1h-1zM1007 382h4v1h-4zM1017 382h2v1h-2zM20 380h1v1h-1zM30 380h2v1h-2zM136 380h2v1h-2zM147 380h1v1h-1zM156 380h2v1h-2zM254 380h1v1h-1zM335 380h2v1h-2zM354 380h1v1h-1zM363 380h1v1h-1zM371 380h1v1h-1zM452 380h1v1h-1zM485 380h1v1h-1zM612 380h1v1h-1zM617 380h1v1h-1zM653 380h2v1h-2zM668 380h1v1h-1zM739 380h1v1h-1zM749 380h1v1h-1zM785 380h1v1h-1zM811 380h1v1h-1zM958 380h1v1h-1zM976 380h1v1h-1zM21 379h1v1h-1zM27 379h3v1h-3zM138 379h2v1h-2zM145 379h2v1h-2zM158 379h2v1h-2zM254 379h1v1h-1zM337 379h2v1h-2zM353 379h1v1h-1zM364 379h1v1h-1zM370 379h1v1h-1zM452 379h1v1h-1zM485 379h1v1h-1zM613 379h1v1h-1zM616 379h1v1h-1zM655 379h1v1h-1zM667 379h1v1h-1zM740 379h1v1h-1zM747 379h2v1h-2zM786 379h1v1h-1zM811 379h1v1h-1zM958 379h1v1h-1zM976 379h1v1h-1zM22 378h1v1h-1zM25 378h2v1h-2zM140 378h2v1h-2zM144 378h1v1h-1zM160 378h1v1h-1zM254 378h1v1h-1zM339 378h3v1h-3zM352 378h1v1h-1zM365 378h1v1h-1zM369 378h1v1h-1zM453 378h1v1h-1zM484 378h1v1h-1zM614 378h1v1h-1zM616 378h1v1h-1zM656 378h1v1h-1zM667 378h1v1h-1zM741 378h1v1h-1zM746 378h1v1h-1zM787 378h1v1h-1zM810 378h1v1h-1zM959 378h1v1h-1zM963 378h13v1h-13zM23 377h2v1h-2zM142 377h2v1h-2zM161 377h1v1h-1zM254 377h1v1h-1zM342 377h10v1h-10zM365 377h1v1h-1zM369 377h1v1h-1zM453 377h1v1h-1zM484 377h1v1h-1zM615 377h1v1h-1zM657 377h1v1h-1zM666 377h1v1h-1zM741 377h1v1h-1zM745 377h1v1h-1zM787 377h1v1h-1zM810 377h1v1h-1zM959 377h4v1h-4zM120 396h2v1h-2zM129 396h1v1h-1zM503 396h1v1h-1zM588 396h1v1h-1zM683 396h1v1h-1zM695 396h2v1h-2zM822 396h1v1h-1zM857 396h4v1h-4zM875 396h2v1h-2zM950 396h1v1h-1zM122 397h1v1h-1zM128 397h1v1h-1zM504 397h2v1h-2zM559 397h1v1h-1zM587 397h1v1h-1zM684 397h1v1h-1zM693 397h2v1h-2zM823 397h1v1h-1zM855 397h2v1h-2zM877 397h1v1h-1zM950 397h1v1h-1zM123 398h2v1h-2zM128 398h1v1h-1zM506 398h1v1h-1zM558 398h1v1h-1zM560 398h2v1h-2zM586 398h1v1h-1zM685 398h1v1h-1zM691 398h2v1h-2zM824 398h2v1h-2zM854 398h1v1h-1zM878 398h1v1h-1zM949 398h1v1h-1zM125 399h3v1h-3zM507 399h2v1h-2zM557 399h1v1h-1zM562 399h1v1h-1zM574 399h3v1h-3zM585 399h1v1h-1zM685 399h1v1h-1zM690 399h1v1h-1zM826 399h2v1h-2zM854 399h1v1h-1zM879 399h1v1h-1zM949 399h1v1h-1zM127 400h1v1h-1zM509 400h2v1h-2zM557 400h1v1h-1zM563 400h2v1h-2zM571 400h3v1h-3zM577 400h2v1h-2zM585 400h1v1h-1zM686 400h1v1h-1zM688 400h2v1h-2zM828 400h2v1h-2zM853 400h1v1h-1zM879 400h1v1h-1zM948 400h1v1h-1zM162 376h1v1h-1zM253 376h1v1h-1zM366 376h1v1h-1zM368 376h1v1h-1zM453 376h1v1h-1zM484 376h1v1h-1zM658 376h1v1h-1zM666 376h1v1h-1zM742 376h1v1h-1zM744 376h1v1h-1zM788 376h1v1h-1zM809 376h1v1h-1zM163 374h1v1h-1zM253 374h1v1h-1zM454 374h1v1h-1zM483 374h1v1h-1zM659 374h1v1h-1zM665 374h1v1h-1zM790 374h1v1h-1zM809 374h1v1h-1zM163 375h1v1h-1zM253 375h1v1h-1zM367 375h1v1h-1zM454 375h1v1h-1zM483 375h1v1h-1zM659 375h1v1h-1zM665 375h1v1h-1zM743 375h1v1h-1zM789 375h1v1h-1zM809 375h1v1h-1zM164 373h1v1h-1zM253 373h1v1h-1zM455 373h1v1h-1zM482 373h1v1h-1zM660 373h1v1h-1zM664 373h1v1h-1zM791 373h2v1h-2zM808 373h1v1h-1zM165 372h1v1h-1zM182 372h2v1h-2zM253 372h1v1h-1zM455 372h1v1h-1zM482 372h1v1h-1zM661 372h1v1h-1zM664 372h1v1h-1zM793 372h2v1h-2zM808 372h1v1h-1zM166 371h1v1h-1zM179 371h3v1h-3zM183 371h1v1h-1zM252 371h1v1h-1zM456 371h1v1h-1zM482 371h1v1h-1zM662 371h2v1h-2zM795 371h3v1h-3zM807 371h1v1h-1zM167 370h4v1h-4zM177 370h2v1h-2zM184 370h1v1h-1zM252 370h1v1h-1zM456 370h1v1h-1zM481 370h1v1h-1zM663 370h1v1h-1zM798 370h10v1h-10zM171 369h6v1h-6zM184 369h1v1h-1zM252 369h1v1h-1zM457 369h1v1h-1zM481 369h1v1h-1zM185 367h1v1h-1zM252 367h1v1h-1zM459 367h1v1h-1zM480 367h1v1h-1zM185 368h1v1h-1zM252 368h1v1h-1zM458 368h1v1h-1zM480 368h1v1h-1zM186 364h1v1h-1zM251 364h1v1h-1zM461 364h1v1h-1zM478 364h1v1h-1zM186 365h1v1h-1zM251 365h1v1h-1zM460 365h1v1h-1zM479 365h1v1h-1zM186 366h1v1h-1zM251 366h1v1h-1zM459 366h1v1h-1zM479 366h1v1h-1zM187 362h1v1h-1zM250 362h1v1h-1zM462 362h1v1h-1zM476 362h1v1h-1zM187 363h1v1h-1zM251 363h1v1h-1zM462 363h1v1h-1zM477 363h1v1h-1zM188 359h1v1h-1zM250 359h1v1h-1zM466 359h1v1h-1zM474 359h1v1h-1zM188 360h1v1h-1zM250 360h1v1h-1zM464 360h2v1h-2zM475 360h1v1h-1zM188 361h1v1h-1zM250 361h1v1h-1zM463 361h1v1h-1zM475 361h1v1h-1zM189 357h1v1h-1zM249 357h1v1h-1zM469 357h2v1h-2zM472 357h1v1h-1zM189 358h1v1h-1zM250 358h1v1h-1zM467 358h2v1h-2zM473 358h1v1h-1zM190 355h1v1h-1zM249 355h1v1h-1zM190 356h1v1h-1zM249 356h1v1h-1zM471 356h1v1h-1zM191 353h2v1h-2zM249 353h1v1h-1zM191 354h1v1h-1zM249 354h1v1h-1zM193 352h2v1h-2zM248 352h1v1h-1zM195 351h3v1h-3zM248 351h1v1h-1zM198 350h2v1h-2zM248 350h1v1h-1zM200 348h1v1h-1zM248 348h1v1h-1zM200 349h1v1h-1zM248 349h1v1h-1zM201 346h1v1h-1zM214 346h1v1h-1zM216 346h1v1h-1zM247 346h1v1h-1zM201 347h1v1h-1zM215 347h1v1h-1zM247 347h1v1h-1zM202 344h1v1h-1zM213 344h1v1h-1zM217 344h1v1h-1zM246 344h1v1h-1zM202 345h1v1h-1zM214 345h1v1h-1zM216 345h1v1h-1zM247 345h1v1h-1zM203 342h1v1h-1zM212 342h1v1h-1zM219 342h1v1h-1zM231 342h1v1h-1zM245 342h1v1h-1zM203 343h1v1h-1zM212 343h1v1h-1zM218 343h1v1h-1zM245 343h1v1h-1zM204 340h1v1h-1zM210 340h1v1h-1zM220 340h1v1h-1zM228 340h1v1h-1zM233 340h1v1h-1zM243 340h1v1h-1zM204 341h1v1h-1zM211 341h1v1h-1zM219 341h1v1h-1zM229 341h2v1h-2zM232 341h1v1h-1zM244 341h1v1h-1zM205 338h1v1h-1zM209 338h1v1h-1zM222 338h1v1h-1zM225 338h2v1h-2zM235 338h2v1h-2zM241 338h1v1h-1zM205 339h1v1h-1zM210 339h1v1h-1zM221 339h1v1h-1zM227 339h1v1h-1zM234 339h1v1h-1zM242 339h1v1h-1zM206 336h1v1h-1zM208 336h1v1h-1zM223 336h1v1h-1zM238 336h1v1h-1zM240 336h1v1h-1zM206 337h1v1h-1zM208 337h1v1h-1zM222 337h1v1h-1zM224 337h1v1h-1zM237 337h1v1h-1zM241 337h1v1h-1zM207 335h1v1h-1zM239 335h1v1h-1zM511 401h2v1h-2zM534 401h3v1h-3zM556 401h1v1h-1zM565 401h2v1h-2zM569 401h2v1h-2zM579 401h3v1h-3zM584 401h1v1h-1zM687 401h1v1h-1zM830 401h2v1h-2zM853 401h1v1h-1zM880 401h1v1h-1zM948 401h1v1h-1zM513 402h2v1h-2zM532 402h2v1h-2zM537 402h2v1h-2zM555 402h1v1h-1zM567 402h2v1h-2zM582 402h2v1h-2zM832 402h1v1h-1zM852 402h1v1h-1zM880 402h1v1h-1zM947 402h1v1h-1zM515 403h3v1h-3zM530 403h2v1h-2zM539 403h3v1h-3zM554 403h1v1h-1zM833 403h1v1h-1zM851 403h1v1h-1zM881 403h1v1h-1zM947 403h1v1h-1zM518 404h5v1h-5zM528 404h2v1h-2zM542 404h3v1h-3zM553 404h1v1h-1zM834 404h1v1h-1zM851 404h1v1h-1zM881 404h1v1h-1zM947 404h1v1h-1zM523 405h5v1h-5zM545 405h2v1h-2zM553 405h1v1h-1zM835 405h1v1h-1zM850 405h1v1h-1zM881 405h1v1h-1zM946 405h1v1h-1zM547 406h3v1h-3zM552 406h1v1h-1zM835 406h1v1h-1zM849 406h1v1h-1zM882 406h1v1h-1zM946 406h1v1h-1zM550 407h2v1h-2zM836 407h1v1h-1zM849 407h1v1h-1zM882 407h1v1h-1zM945 407h1v1h-1zM837 408h1v1h-1zM848 408h1v1h-1zM882 408h1v1h-1zM895 408h1v1h-1zM945 408h1v1h-1zM838 409h1v1h-1zM848 409h1v1h-1zM883 409h1v1h-1zM894 409h1v1h-1zM896 409h1v1h-1zM944 409h1v1h-1zM839 410h9v1h-9zM883 410h1v1h-1zM894 410h1v1h-1zM897 410h2v1h-2zM944 410h1v1h-1zM884 411h1v1h-1zM893 411h1v1h-1zM899 411h1v1h-1zM943 411h1v1h-1zM884 412h1v1h-1zM892 412h1v1h-1zM900 412h1v1h-1zM943 412h1v1h-1zM884 413h1v1h-1zM892 413h1v1h-1zM901 413h2v1h-2zM907 413h5v1h-5zM942 413h1v1h-1zM885 414h1v1h-1zM891 414h1v1h-1zM903 414h4v1h-4zM912 414h1v1h-1zM941 414h1v1h-1zM885 415h1v1h-1zM890 415h1v1h-1zM913 415h1v1h-1zM939 415h2v1h-2zM885 416h1v1h-1zM890 416h1v1h-1zM914 416h1v1h-1zM926 416h3v1h-3zM938 416h1v1h-1zM886 417h1v1h-1zM889 417h1v1h-1zM915 417h2v1h-2zM924 417h2v1h-2zM929 417h2v1h-2zM937 417h1v1h-1zM886 418h1v1h-1zM888 418h1v1h-1zM917 418h1v1h-1zM922 418h2v1h-2zM931 418h3v1h-3zM936 418h1v1h-1zM887 419h2v1h-2zM918 419h1v1h-1zM920 419h2v1h-2zM934 419h2v1h-2zM887 420h1v1h-1zM919 420h1v1h-1z" fill="#5090c8" shape-rendering="crispEdges"/><rect x="0" y="345" width="1032" height="1" fill="#1e1a6c" shape-rendering="crispEdges"/><rect x="0" y="385" width="1032" height="1" fill="#1e1a6c" shape-rendering="crispEdges"/><rect x="0" y="425" width="1032" height="1" fill="#1e1a6c" shape-rendering="crispEdges"/><rect x="1035" y="184" width="34" height="11" fill="#7a8492"/><path d="M1039 186h1v1h-1zM1040 186h1v1h-1zM1038 187h1v1h-1zM1038 188h1v1h-1zM1038 189h1v1h-1zM1039 189h1v1h-1zM1040 189h1v1h-1zM1038 190h1v1h-1zM1041 190h1v1h-1zM1038 191h1v1h-1zM1041 191h1v1h-1zM1039 192h1v1h-1zM1040 192h1v1h-1zM1045 186h1v1h-1zM1044 187h1v1h-1zM1045 187h1v1h-1zM1043 188h1v1h-1zM1045 188h1v1h-1zM1043 189h1v1h-1zM1045 189h1v1h-1zM1043 190h1v1h-1zM1044 190h1v1h-1zM1045 190h1v1h-1zM1046 190h1v1h-1zM1045 191h1v1h-1zM1045 192h1v1h-1zM1049 192h1v1h-1zM1053 186h1v1h-1zM1052 187h1v1h-1zM1053 187h1v1h-1zM1051 188h1v1h-1zM1053 188h1v1h-1zM1051 189h1v1h-1zM1053 189h1v1h-1zM1051 190h1v1h-1zM1052 190h1v1h-1zM1053 190h1v1h-1zM1054 190h1v1h-1zM1053 191h1v1h-1zM1053 192h1v1h-1zM1056 186h1v1h-1zM1057 186h1v1h-1zM1058 186h1v1h-1zM1059 186h1v1h-1zM1056 187h1v1h-1zM1056 188h1v1h-1zM1057 188h1v1h-1zM1058 188h1v1h-1zM1059 189h1v1h-1zM1059 190h1v1h-1zM1056 191h1v1h-1zM1059 191h1v1h-1zM1057 192h1v1h-1zM1058 192h1v1h-1zM1061 186h1v1h-1zM1062 186h1v1h-1zM1063 186h1v1h-1zM1064 186h1v1h-1zM1064 187h1v1h-1zM1063 188h1v1h-1zM1063 189h1v1h-1zM1062 190h1v1h-1zM1062 191h1v1h-1zM1062 192h1v1h-1z" fill="#ffffff" shape-rendering="crispEdges"/>
<g>
<path d="M5.5 4.5 H11.5 V14.5 H5.5 Q4.5 14.5 4.5 13.5 V5.5 Q4.5 4.5 5.5 4.5 Z" fill="#ffe6e6" stroke="#9a5555" stroke-width="1.1"/>
<path d="M11.5 4.5 H17.5 Q18.5 4.5 18.5 5.5 V13.5 Q18.5 14.5 17.5 14.5 H11.5 Z" fill="#d6f0ff" stroke="#2a5573" stroke-width="1.1"/>
<rect x="6" y="6" width="5" height="1.2" fill="#c05555"/><rect x="6" y="9" width="5" height="1.2" fill="#8a5050"/><rect x="6" y="12" width="5" height="1.2" fill="#8a5050"/>
<rect x="12" y="6" width="5" height="1.2" fill="#1f4a6a"/><rect x="12" y="9" width="5" height="1.2" fill="#1f4a6a"/><rect x="12" y="12" width="5" height="1.2" fill="#1f4a6a"/>
<path d="M26.5 4.5 H28.5 V8.5 H31.5 V13.5 Q31.5 14.5 30.5 14.5 H26.5 Q25.5 14.5 25.5 13.5 V5.5 Q25.5 4.5 26.5 4.5 Z" fill="#ffd6d6" stroke="#9a5555" stroke-width="1.1"/>
<path d="M38.5 4.5 H36.5 V8.5 H33.5 V13.5 Q33.5 14.5 34.5 14.5 H38.5 Q39.5 14.5 39.5 13.5 V5.5 Q39.5 4.5 38.5 4.5 Z" fill="#c6ecff" stroke="#2a5573" stroke-width="1.1"/>
<rect x="30.5" y="4.5" width="4" height="2" rx="1" fill="#ffffff" stroke="#8a9090" stroke-width="0.9"/>
</g></svg></div>
</body></html>
